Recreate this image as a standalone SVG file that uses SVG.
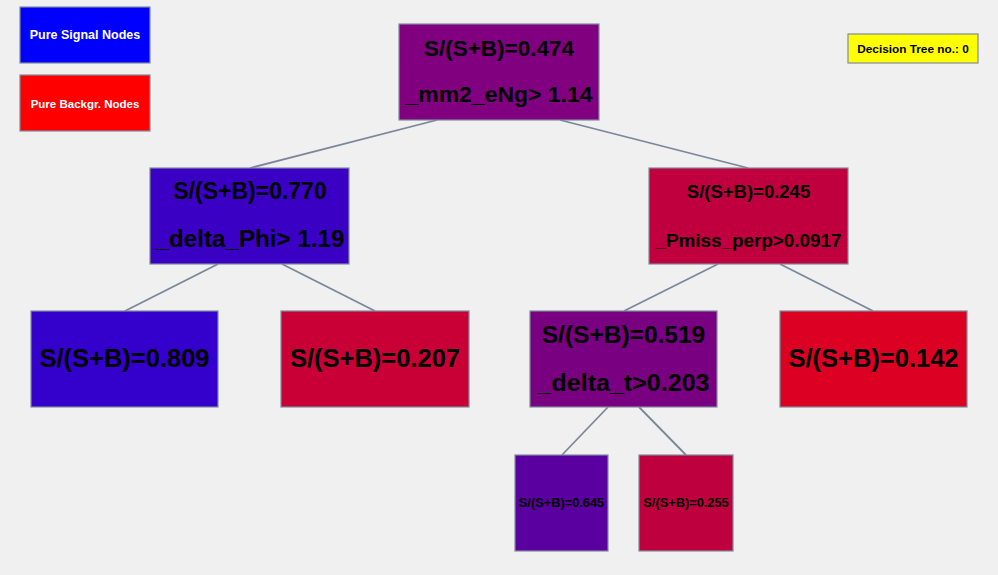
<svg xmlns="http://www.w3.org/2000/svg" width="998" height="575" viewBox="0 0 998 575">
<style>
.bg{fill:#f0f0f0}
.box{stroke:#7f8c9c;stroke-width:1.2}
.t{font-family:"Liberation Sans",Arial,sans-serif;font-weight:bold;text-anchor:middle;fill:#000}
.w{fill:#fff}
.edge{stroke:#7a879a;stroke-width:1.8;fill:none}
</style>
<rect class="bg" x="0" y="0" width="998" height="575"/>
<g id="connectors">
<line class="edge" x1="437" y1="120" x2="250" y2="168"/>
<line class="edge" x1="560" y1="120" x2="748" y2="168"/>
<line class="edge" x1="218" y1="264" x2="125" y2="311"/>
<line class="edge" x1="282" y1="264" x2="375" y2="311"/>
<line class="edge" x1="718" y1="264" x2="624" y2="311"/>
<line class="edge" x1="780" y1="264" x2="873" y2="311"/>
<line class="edge" x1="608" y1="407" x2="562" y2="455"/>
<line class="edge" x1="639" y1="407" x2="686" y2="455"/>
</g>
<g id="legend-signal">
<rect class="box" x="20" y="7" width="130" height="56" fill="#0000ff"/>
<text class="t w" x="85" y="39" font-size="12.5">Pure Signal Nodes</text>
</g>
<g id="legend-background">
<rect class="box" x="20" y="75" width="130" height="56" fill="#ff0000"/>
<text class="t w" x="85" y="108" font-size="11.5">Pure Backgr. Nodes</text>
</g>
<g id="tree-label">
<rect class="box" x="848" y="34" width="130" height="29" fill="#ffff00"/>
<text class="t" x="913" y="53" font-size="11.8">Decision Tree no.: 0</text>
</g>
<g id="node-root">
<rect class="box" x="399" y="24" width="200" height="96" fill="#800080"/>
<text class="t" x="499" y="56" font-size="22.5">S/(S+B)=0.474</text>
<text class="t" x="499" y="102" font-size="22.5" textLength="187" lengthAdjust="spacingAndGlyphs">_mm2_eNg&gt; 1.14</text>
</g>
<g id="node-l">
<rect class="box" x="150" y="168" width="199" height="96" fill="#3a00c4"/>
<text class="t" x="250" y="199" font-size="23">S/(S+B)=0.770</text>
<text class="t" x="250" y="247" font-size="23" textLength="189" lengthAdjust="spacingAndGlyphs">_delta_Phi&gt; 1.19</text>
</g>
<g id="node-r">
<rect class="box" x="649" y="168" width="199" height="96" fill="#c0003e"/>
<text class="t" x="748.5" y="198" font-size="18.5">S/(S+B)=0.245</text>
<text class="t" x="748.5" y="247" font-size="18.5" textLength="186" lengthAdjust="spacingAndGlyphs">_Pmiss_perp&gt;0.0917</text>
</g>
<g id="node-ll">
<rect class="box" x="31" y="311" width="187" height="96" fill="#3300cc"/>
<text class="t" x="124.5" y="367" font-size="25.5">S/(S+B)=0.809</text>
</g>
<g id="node-lr">
<rect class="box" x="281" y="311" width="188" height="96" fill="#c80036"/>
<text class="t" x="375" y="367" font-size="25.5">S/(S+B)=0.207</text>
</g>
<g id="node-rl">
<rect class="box" x="530" y="311" width="187" height="96" fill="#790080"/>
<text class="t" x="623.5" y="343" font-size="24.5">S/(S+B)=0.519</text>
<text class="t" x="623.5" y="391" font-size="24.5" textLength="172" lengthAdjust="spacingAndGlyphs">_delta_t&gt;0.203</text>
</g>
<g id="node-rr">
<rect class="box" x="780" y="311" width="187" height="96" fill="#dc0022"/>
<text class="t" x="873.5" y="367" font-size="25.5">S/(S+B)=0.142</text>
</g>
<g id="node-rll">
<rect class="box" x="515" y="455" width="93" height="96" fill="#5a00a0"/>
<text class="t" x="561.5" y="507" font-size="12.8">S/(S+B)=0.645</text>
</g>
<g id="node-rlr">
<rect class="box" x="639" y="455" width="94" height="96" fill="#be003e"/>
<text class="t" x="686" y="507" font-size="12.8">S/(S+B)=0.255</text>
</g>
</svg>
